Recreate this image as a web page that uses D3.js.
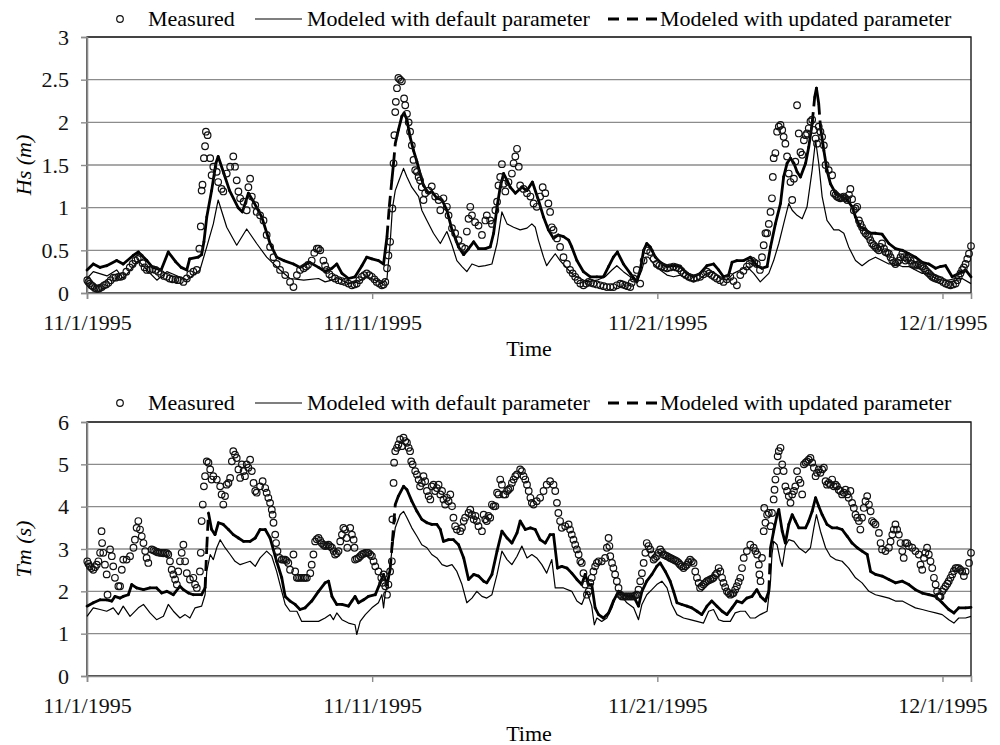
<!DOCTYPE html>
<html>
<head>
<meta charset="utf-8">
<script src="https://cdn.jsdelivr.net/npm/d3@7"></script>
<style>
body{margin:0;background:#fff;}
svg, svg text{font-family:"Liberation Serif","Times New Roman",serif;}
</style>
</head>
<body>
<svg></svg>
<script>
// days counted from 11/1/1995 00:00
var startDate = new Date(1995,10,1);
var dayCount = 31;
var dateTicks = [0,10,20,30];
var legendLabels = ["Measured","Modeled with default parameter","Modeled with updated parameter"];
var hsTicks = [0,0.5,1,1.5,2,2.5,3];
var tmTicks = [0,1,2,3,4,5,6];

var hsMeasured = [[0.01,0.15],[0.1,0.11],[0.2,0.08],[0.34,0.05],[0.45,0.06],[0.6,0.09],[0.75,0.12],[0.92,0.18],[1.1,0.19],[1.25,0.2],[1.5,0.3],[1.7,0.38],[1.86,0.42],[1.95,0.35],[2.1,0.27],[2.3,0.28],[2.5,0.25],[2.7,0.2],[2.9,0.17],[3.1,0.16],[3.26,0.15],[3.38,0.13],[3.5,0.17],[3.62,0.22],[3.73,0.25],[3.85,0.27],[3.94,0.52],[3.99,0.78],[4.02,1.2],[4.05,1.27],[4.1,1.58],[4.14,1.72],[4.17,1.89],[4.23,1.85],[4.32,1.58],[4.37,1.38],[4.43,1.48],[4.55,1.42],[4.6,1.3],[4.72,1.22],[4.78,1.19],[4.9,1.4],[5.02,1.48],[5.13,1.6],[5.19,1.48],[5.25,1.32],[5.31,1.19],[5.37,1.11],[5.49,1.07],[5.6,0.97],[5.66,1.24],[5.72,1.34],[5.78,1.13],[5.9,1.03],[5.95,0.95],[6.07,0.91],[6.19,0.85],[6.3,0.68],[6.42,0.54],[6.54,0.42],[6.65,0.34],[6.77,0.27],[6.95,0.21],[7.12,0.13],[7.24,0.07],[7.36,0.21],[7.47,0.27],[7.6,0.29],[7.75,0.33],[7.88,0.38],[8.06,0.52],[8.18,0.5],[8.29,0.38],[8.41,0.27],[8.59,0.19],[8.82,0.15],[9.05,0.13],[9.29,0.09],[9.46,0.11],[9.64,0.19],[9.81,0.23],[9.99,0.19],[10.16,0.13],[10.34,0.09],[10.46,0.13],[10.52,0.29],[10.57,0.44],[10.63,0.6],[10.71,0.99],[10.75,1.52],[10.78,1.85],[10.81,2.12],[10.83,2.24],[10.87,2.4],[10.92,2.52],[10.98,2.5],[11.04,2.48],[11.12,2.28],[11.16,2.2],[11.22,2.1],[11.28,2.0],[11.33,1.89],[11.39,1.73],[11.45,1.56],[11.51,1.44],[11.57,1.42],[11.63,1.36],[11.68,1.32],[11.74,1.24],[11.8,1.09],[11.86,1.17],[11.98,1.2],[12.09,1.25],[12.21,1.13],[12.33,1.09],[12.39,0.97],[12.5,1.11],[12.62,1.01],[12.68,0.91],[12.8,0.76],[12.91,0.7],[13.03,0.62],[13.15,0.54],[13.26,0.52],[13.32,0.72],[13.38,0.87],[13.44,1.01],[13.5,0.91],[13.61,0.83],[13.73,0.79],[13.85,0.68],[13.97,0.85],[14.02,0.91],[14.14,0.85],[14.2,0.81],[14.32,0.97],[14.38,1.07],[14.43,1.26],[14.49,1.36],[14.55,1.51],[14.61,1.28],[14.67,1.19],[14.78,1.3],[14.9,1.4],[14.96,1.52],[15.02,1.6],[15.08,1.69],[15.14,1.48],[15.19,1.26],[15.31,1.22],[15.43,1.17],[15.55,1.13],[15.66,1.05],[15.77,1.01],[15.89,1.13],[15.98,1.24],[16.07,1.17],[16.18,1.05],[16.24,0.95],[16.3,0.77],[16.36,0.74],[16.48,0.64],[16.59,0.54],[16.71,0.42],[16.83,0.34],[16.94,0.27],[17.12,0.19],[17.3,0.11],[17.41,0.09],[17.59,0.13],[17.76,0.11],[18.0,0.09],[18.23,0.07],[18.46,0.07],[18.7,0.11],[18.87,0.09],[19.05,0.07],[19.17,0.17],[19.28,0.27],[19.4,0.11],[19.52,0.38],[19.63,0.5],[19.75,0.48],[19.87,0.4],[19.98,0.34],[20.16,0.31],[20.34,0.29],[20.57,0.31],[20.75,0.29],[20.92,0.23],[21.1,0.19],[21.27,0.17],[21.5,0.19],[21.74,0.25],[21.91,0.21],[22.09,0.17],[22.32,0.13],[22.56,0.19],[22.79,0.09],[22.91,0.21],[23.14,0.31],[23.32,0.38],[23.49,0.34],[23.6,0.27],[23.67,0.42],[23.73,0.56],[23.79,0.7],[23.85,0.7],[23.91,0.81],[23.97,0.95],[24.02,1.11],[24.05,1.36],[24.08,1.58],[24.14,1.64],[24.2,1.89],[24.26,1.95],[24.32,1.97],[24.38,1.91],[24.43,1.83],[24.49,1.75],[24.55,1.6],[24.61,1.4],[24.67,1.3],[24.73,1.09],[24.79,1.34],[24.84,1.54],[24.9,2.2],[24.96,1.87],[25.02,1.65],[25.08,1.62],[25.14,1.79],[25.2,1.85],[25.25,1.87],[25.31,1.93],[25.37,2.01],[25.43,2.03],[25.49,1.91],[25.55,1.81],[25.6,1.75],[25.66,1.95],[25.72,1.89],[25.78,1.83],[25.84,1.73],[25.9,1.5],[26.01,1.44],[26.13,1.38],[26.19,1.17],[26.3,1.13],[26.42,1.11],[26.54,1.13],[26.66,1.09],[26.77,1.22],[26.89,0.97],[27.01,1.01],[27.07,0.85],[27.18,0.77],[27.3,0.7],[27.42,0.66],[27.53,0.58],[27.65,0.54],[27.77,0.5],[27.88,0.58],[28.0,0.48],[28.12,0.46],[28.24,0.38],[28.35,0.34],[28.47,0.38],[28.59,0.46],[28.7,0.38],[28.82,0.42],[28.94,0.34],[29.05,0.32],[29.17,0.34],[29.29,0.31],[29.4,0.27],[29.52,0.23],[29.64,0.19],[29.76,0.17],[29.93,0.15],[30.11,0.11],[30.28,0.09],[30.46,0.11],[30.57,0.19],[30.69,0.27],[30.81,0.34],[30.93,0.46],[31.0,0.55],
  [0.05,0.13],[0.15,0.09],[0.27,0.06],[0.4,0.05],[0.52,0.07],[0.67,0.1],[0.83,0.15],[1.0,0.18],[1.18,0.19],[1.38,0.25],[1.6,0.34],[1.78,0.4],[2.02,0.3],[2.2,0.27],[2.4,0.27],[2.6,0.22],[2.8,0.19],[3.0,0.16],[3.18,0.15],
  [7.68,0.31],[7.97,0.47],[8.12,0.52],[8.35,0.32],[8.5,0.22],[8.7,0.17],[8.93,0.14],[9.17,0.11],[9.38,0.1],[9.55,0.15],[9.72,0.21],[9.9,0.21],[10.08,0.16],[10.25,0.11],[10.4,0.1],
  [17.03,0.23],[17.21,0.15],[17.5,0.11],[17.67,0.12],[17.88,0.1],[18.12,0.08],[18.35,0.07],[18.58,0.09],[18.78,0.1],[18.96,0.08],[19.1,0.12],
  [20.07,0.32],[20.25,0.3],[20.45,0.3],[20.66,0.3],[20.84,0.26],[21.0,0.21],[21.18,0.18],[21.38,0.18],[21.62,0.22],[21.82,0.23],[22.0,0.19],[22.2,0.15],[22.44,0.16],[22.67,0.14],[23.02,0.26],[23.23,0.34],[23.4,0.36],
  [26.25,1.15],[26.36,1.12],[26.48,1.12],[26.6,1.11],[26.72,1.15],[26.83,1.1],[26.95,0.99],[27.12,0.81],[27.24,0.73],[27.36,0.68],[27.47,0.62],[27.59,0.56],[27.71,0.52],[27.82,0.54],
  [27.95,0.52],[28.06,0.47],[28.18,0.42],[28.3,0.36],[28.41,0.36],[28.53,0.42],[28.65,0.42],[28.76,0.4],[28.88,0.38],[29.0,0.33],[29.11,0.33],[29.23,0.32],[29.35,0.29],[29.46,0.25],[29.58,0.21],[29.7,0.18],[29.84,0.16],[30.02,0.13],[30.2,0.1],[30.37,0.1],[30.52,0.15],[30.63,0.23],[30.75,0.3],[30.87,0.4]];

var hsDefault = [[0,0.17],[0.22,0.25],[0.7,0.2],[1.04,0.27],[1.27,0.17],[1.8,0.38],[2.1,0.27],[2.45,0.15],[2.8,0.25],[3.03,0.22],[3.5,0.15],[3.96,0.27],[4.2,0.54],[4.43,0.81],[4.6,1.09],[4.9,0.77],[5.25,0.56],[5.6,0.75],[5.95,0.58],[6.3,0.42],[6.77,0.27],[7.12,0.17],[7.6,0.15],[8.12,0.17],[8.35,0.13],[8.59,0.15],[8.82,0.17],[9.17,0.11],[9.52,0.13],[9.76,0.19],[9.99,0.17],[10.34,0.11],[10.52,0.17],[10.63,0.58],[10.71,0.99],[10.81,1.2],[10.92,1.3],[11.1,1.46],[11.22,1.36],[11.39,1.24],[11.63,1.13],[11.74,0.97],[11.92,0.85],[12.15,0.7],[12.39,0.58],[12.62,0.72],[12.8,0.56],[12.97,0.38],[13.15,0.31],[13.32,0.25],[13.5,0.34],[13.73,0.31],[13.97,0.32],[14.2,0.34],[14.38,0.58],[14.55,0.95],[14.73,0.81],[14.96,0.77],[15.19,0.74],[15.43,0.76],[15.6,0.81],[15.72,0.77],[15.83,0.62],[16.01,0.42],[16.12,0.32],[16.24,0.38],[16.42,0.46],[16.59,0.38],[16.83,0.29],[17.06,0.21],[17.3,0.17],[17.53,0.13],[17.88,0.15],[18.17,0.19],[18.41,0.27],[18.58,0.32],[18.81,0.25],[19.05,0.19],[19.28,0.13],[19.46,0.27],[19.58,0.42],[19.69,0.42],[19.87,0.34],[20.1,0.27],[20.34,0.21],[20.57,0.19],[20.8,0.21],[21.04,0.17],[21.27,0.13],[21.5,0.17],[21.74,0.23],[21.97,0.25],[22.21,0.17],[22.44,0.15],[22.67,0.23],[22.91,0.27],[23.14,0.31],[23.38,0.23],[23.61,0.13],[23.91,0.23],[24.08,0.38],[24.26,0.58],[24.43,0.81],[24.61,1.05],[24.73,0.97],[24.9,0.91],[25.08,0.87],[25.25,1.01],[25.43,1.44],[25.55,1.79],[25.66,1.52],[25.78,1.13],[25.95,0.85],[26.19,0.74],[26.36,0.74],[26.54,0.7],[26.71,0.54],[26.95,0.38],[27.18,0.32],[27.42,0.38],[27.65,0.42],[27.88,0.38],[28.12,0.34],[28.35,0.34],[28.59,0.31],[28.82,0.31],[29.05,0.27],[29.29,0.23],[29.52,0.23],[29.76,0.17],[29.99,0.15],[30.22,0.15],[30.46,0.17],[30.69,0.17],[31,0.11]];

var hsUpdated = [[0,0.27],[0.22,0.34],[0.46,0.3],[0.69,0.32],[1.04,0.38],[1.27,0.34],[1.62,0.44],[1.8,0.48],[2.1,0.38],[2.3,0.3],[2.6,0.27],[2.85,0.48],[3.1,0.37],[3.3,0.3],[3.5,0.27],[3.6,0.4],[3.9,0.42],[4.02,0.45],[4.1,0.6],[4.2,0.89],[4.37,1.2],[4.52,1.52],[4.6,1.6],[4.8,1.4],[5.0,1.2],[5.3,1.0],[5.45,0.95],[5.66,1.17],[5.84,1.07],[6.13,0.89],[6.42,0.58],[6.65,0.42],[6.9,0.38],[7.24,0.34],[7.47,0.3],[7.8,0.36],[8.12,0.3],[8.35,0.25],[8.59,0.29],[8.76,0.34],[8.94,0.23],[9.17,0.17],[9.4,0.19],[9.64,0.32],[9.81,0.42],[9.99,0.4],[10.22,0.38],[10.4,0.34],[10.52,0.66],[10.6,1.01],[10.69,1.32],[10.75,1.52],[10.81,1.75],[10.92,1.91],[11.04,2.07],[11.12,2.11],[11.22,2.03],[11.33,1.83],[11.45,1.67],[11.57,1.54],[11.68,1.4],[11.8,1.26],[11.98,1.17],[12.09,1.19],[12.27,1.11],[12.45,1.09],[12.62,0.97],[12.8,0.74],[13.03,0.54],[13.21,0.45],[13.38,0.52],[13.56,0.6],[13.73,0.52],[13.97,0.52],[14.14,0.54],[14.26,0.7],[14.38,1.01],[14.49,1.24],[14.61,1.4],[14.73,1.32],[14.84,1.24],[15.02,1.17],[15.25,1.24],[15.43,1.2],[15.62,1.3],[15.83,1.09],[16.01,0.89],[16.18,0.74],[16.36,0.64],[16.53,0.68],[16.71,0.66],[16.89,0.62],[17.0,0.54],[17.18,0.38],[17.41,0.25],[17.65,0.19],[17.88,0.19],[18.11,0.19],[18.29,0.31],[18.46,0.42],[18.6,0.48],[18.81,0.34],[19.05,0.23],[19.28,0.13],[19.4,0.27],[19.52,0.5],[19.63,0.58],[19.75,0.54],[19.93,0.42],[20.1,0.36],[20.34,0.31],[20.57,0.32],[20.8,0.31],[21.04,0.23],[21.27,0.19],[21.5,0.23],[21.74,0.32],[21.97,0.34],[22.15,0.27],[22.32,0.19],[22.5,0.21],[22.62,0.36],[22.79,0.38],[23.03,0.38],[23.26,0.42],[23.49,0.32],[23.67,0.29],[23.85,0.31],[23.97,0.54],[24.14,0.81],[24.32,1.05],[24.43,1.36],[24.55,1.52],[24.67,1.58],[24.79,1.52],[24.9,1.42],[25.02,1.36],[25.2,1.52],[25.31,1.71],[25.43,1.99],[25.52,2.3],[25.58,2.4],[25.66,2.22],[25.72,1.95],[25.84,1.67],[25.95,1.44],[26.07,1.28],[26.25,1.17],[26.48,1.13],[26.66,1.09],[26.83,1.01],[26.95,0.89],[27.12,0.77],[27.3,0.74],[27.48,0.7],[27.65,0.7],[27.88,0.69],[28.12,0.58],[28.35,0.52],[28.59,0.5],[28.82,0.46],[29.05,0.42],[29.29,0.36],[29.52,0.34],[29.76,0.29],[29.93,0.31],[30.11,0.32],[30.34,0.19],[30.57,0.23],[30.81,0.27],[31,0.19]];

var tmMeasured = [[0.01,2.71],[0.1,2.59],[0.22,2.51],[0.34,2.63],[0.4,2.71],[0.46,2.91],[0.51,3.42],[0.53,3.14],[0.57,2.91],[0.63,2.63],[0.69,2.4],[0.72,1.92],[0.81,2.99],[0.87,2.83],[0.92,2.59],[0.98,2.32],[1.1,2.12],[1.16,2.12],[1.22,2.51],[1.27,2.75],[1.39,2.75],[1.51,2.83],[1.63,3.03],[1.68,3.22],[1.74,3.5],[1.8,3.66],[1.86,3.46],[1.92,3.3],[1.98,3.14],[2.04,2.95],[2.09,2.79],[2.15,2.67],[2.27,2.99],[2.39,2.95],[2.56,2.91],[2.74,2.91],[2.85,2.87],[2.91,2.71],[2.97,2.51],[3.03,2.4],[3.09,2.28],[3.15,2.16],[3.2,2.47],[3.26,2.71],[3.32,2.91],[3.38,3.1],[3.44,2.71],[3.5,2.43],[3.61,2.28],[3.73,2.32],[3.79,2.16],[3.85,2.08],[3.96,2.47],[3.99,2.91],[4.02,3.66],[4.06,4.05],[4.1,4.48],[4.14,4.72],[4.2,5.07],[4.26,5.04],[4.32,4.88],[4.37,4.64],[4.43,4.72],[4.55,4.64],[4.67,4.48],[4.72,4.29],[4.78,4.05],[4.84,4.25],[4.9,4.52],[4.96,4.56],[5.02,4.68],[5.08,5.07],[5.13,5.31],[5.19,5.23],[5.25,5.15],[5.31,4.88],[5.37,4.68],[5.43,5.0],[5.49,4.84],[5.54,4.72],[5.6,5.0],[5.66,4.92],[5.72,5.11],[5.78,4.84],[5.84,4.56],[5.9,4.37],[5.95,4.33],[6.07,4.48],[6.16,4.6],[6.25,4.44],[6.3,4.33],[6.36,4.21],[6.42,4.09],[6.48,3.93],[6.51,3.81],[6.54,3.62],[6.6,3.34],[6.63,3.14],[6.68,2.95],[6.75,2.79],[6.83,2.75],[6.95,2.75],[7.06,2.67],[7.12,2.51],[7.24,2.87],[7.3,2.47],[7.36,2.32],[7.47,2.32],[7.6,2.32],[7.71,2.32],[7.83,2.43],[7.88,2.63],[7.94,2.87],[8.0,3.18],[8.12,3.26],[8.23,3.14],[8.35,3.07],[8.47,3.1],[8.59,3.03],[8.7,2.87],[8.82,2.95],[8.88,3.18],[8.94,3.34],[8.99,3.5],[9.05,3.46],[9.11,3.26],[9.13,3.03],[9.23,3.5],[9.29,3.34],[9.35,3.22],[9.38,3.03],[9.4,2.75],[9.52,2.79],[9.64,2.87],[9.76,2.91],[9.87,2.91],[9.99,2.83],[10.05,2.71],[10.11,2.59],[10.22,2.47],[10.32,2.32],[10.36,2.2],[10.4,2.4],[10.46,2.12],[10.52,1.92],[10.57,2.16],[10.63,2.47],[10.69,2.71],[10.71,3.7],[10.75,4.56],[10.77,5.04],[10.81,5.31],[10.87,5.39],[10.92,5.47],[10.98,5.59],[11.04,5.43],[11.1,5.63],[11.16,5.55],[11.22,5.51],[11.28,5.39],[11.33,5.31],[11.37,5.07],[11.42,5.0],[11.51,4.84],[11.57,4.76],[11.63,4.64],[11.68,4.48],[11.74,4.56],[11.8,4.72],[11.86,4.6],[11.92,4.37],[11.98,4.25],[12.04,4.17],[12.09,4.48],[12.15,4.52],[12.21,4.37],[12.27,4.44],[12.33,4.52],[12.39,4.29],[12.45,4.37],[12.5,4.17],[12.56,4.05],[12.62,4.21],[12.68,4.13],[12.74,4.29],[12.8,4.01],[12.85,3.74],[12.91,3.54],[12.97,3.46],[13.09,3.42],[13.15,3.5],[13.21,3.66],[13.26,3.74],[13.38,3.85],[13.44,3.93],[13.5,3.81],[13.56,3.7],[13.62,3.78],[13.67,3.66],[13.73,3.54],[13.85,3.42],[13.91,3.81],[13.97,3.7],[14.02,3.66],[14.08,3.78],[14.14,3.74],[14.2,4.05],[14.26,4.01],[14.32,4.01],[14.38,4.33],[14.43,4.29],[14.49,4.64],[14.55,4.52],[14.61,4.29],[14.67,4.29],[14.73,4.37],[14.78,4.4],[14.84,4.44],[14.9,4.56],[14.96,4.64],[15.02,4.72],[15.08,4.76],[15.19,4.88],[15.25,4.84],[15.31,4.72],[15.37,4.64],[15.43,4.52],[15.49,4.37],[15.55,4.21],[15.6,4.09],[15.66,4.05],[15.77,4.13],[15.89,4.21],[16.01,4.37],[16.12,4.52],[16.24,4.6],[16.36,4.52],[16.42,4.37],[16.48,4.09],[16.53,3.85],[16.59,3.66],[16.65,3.5],[16.77,3.54],[16.89,3.58],[16.94,3.46],[17.0,3.34],[17.06,3.22],[17.12,3.1],[17.18,2.99],[17.24,2.87],[17.3,2.71],[17.35,2.67],[17.41,2.43],[17.47,2.16],[17.53,1.92],[17.59,2.0],[17.65,2.2],[17.7,2.32],[17.76,2.47],[17.82,2.59],[17.88,2.67],[17.94,2.71],[18.05,2.71],[18.17,2.79],[18.23,3.03],[18.29,3.26],[18.32,3.07],[18.35,2.83],[18.41,2.67],[18.46,2.55],[18.52,2.4],[18.58,2.24],[18.64,2.08],[18.7,1.92],[18.81,1.88],[18.93,1.88],[19.05,1.88],[19.17,1.88],[19.28,1.92],[19.34,2.04],[19.4,2.24],[19.46,2.43],[19.52,2.67],[19.58,2.91],[19.63,3.14],[19.69,3.07],[19.75,2.99],[19.81,2.87],[19.87,2.75],[19.98,2.83],[20.1,2.99],[20.22,2.87],[20.34,2.83],[20.45,2.79],[20.57,2.75],[20.69,2.71],[20.8,2.63],[20.92,2.55],[21.04,2.63],[21.15,2.75],[21.27,2.67],[21.33,2.47],[21.39,2.32],[21.45,2.2],[21.5,2.08],[21.62,2.16],[21.74,2.24],[21.86,2.28],[21.97,2.32],[22.09,2.43],[22.15,2.55],[22.21,2.47],[22.27,2.32],[22.32,2.2],[22.44,2.0],[22.56,1.92],[22.67,1.96],[22.79,2.12],[22.91,2.32],[22.97,2.55],[23.03,2.79],[23.14,2.95],[23.26,3.1],[23.38,3.03],[23.44,2.95],[23.5,2.87],[23.56,2.63],[23.58,2.4],[23.62,2.24],[23.67,2.79],[23.73,3.42],[23.75,3.97],[23.79,3.62],[23.85,3.81],[23.91,3.85],[23.97,3.54],[24.02,3.85],[24.08,4.17],[24.11,4.4],[24.14,4.64],[24.2,4.84],[24.22,5.19],[24.26,5.31],[24.32,5.39],[24.38,5.0],[24.43,4.84],[24.49,4.48],[24.55,4.37],[24.61,4.25],[24.67,4.09],[24.73,4.29],[24.79,4.37],[24.84,4.48],[24.9,4.84],[24.96,4.64],[25.02,4.56],[25.08,4.29],[25.14,5.0],[25.2,5.04],[25.25,5.07],[25.31,5.11],[25.37,5.15],[25.43,5.04],[25.49,4.92],[25.55,4.72],[25.6,4.8],[25.66,4.88],[25.72,4.8],[25.78,4.88],[25.84,4.92],[25.9,4.6],[25.95,4.52],[26.01,4.56],[26.07,4.52],[26.13,4.64],[26.19,4.48],[26.25,4.52],[26.3,4.48],[26.36,4.4],[26.42,4.37],[26.48,4.29],[26.54,4.33],[26.6,4.4],[26.66,4.29],[26.71,4.21],[26.77,4.37],[26.83,4.09],[26.89,3.97],[26.95,3.81],[27.01,3.74],[27.07,3.66],[27.12,3.46],[27.18,3.74],[27.24,3.97],[27.3,4.13],[27.36,4.25],[27.42,4.05],[27.48,3.89],[27.53,3.66],[27.59,3.62],[27.65,3.58],[27.77,3.38],[27.83,3.14],[27.88,2.99],[28.0,2.95],[28.12,3.03],[28.18,3.18],[28.24,3.34],[28.29,3.46],[28.35,3.58],[28.41,3.46],[28.47,3.34],[28.53,3.14],[28.59,2.95],[28.64,2.79],[28.7,3.14],[28.76,3.14],[28.82,3.07],[28.94,3.03],[29.05,2.95],[29.17,2.87],[29.23,2.63],[29.29,2.51],[29.35,2.79],[29.4,2.91],[29.46,3.03],[29.52,2.87],[29.58,2.71],[29.64,2.55],[29.7,2.32],[29.76,2.16],[29.81,2.0],[29.87,1.88],[29.93,1.88],[29.99,2.0],[30.11,2.12],[30.22,2.24],[30.34,2.4],[30.46,2.55],[30.57,2.55],[30.69,2.47],[30.75,2.36],[30.81,2.47],[30.93,2.67],[31.0,2.91],
  [0.05,2.65],[0.16,2.55],[0.28,2.57],[2.33,2.97],[2.45,2.93],[2.5,2.92],[2.62,2.91],[2.68,2.9],[2.8,2.9],[6.89,2.75],[7.0,2.72],[7.41,2.32],[7.53,2.32],[7.65,2.32],
  [8.06,3.23],[8.18,3.2],[8.29,3.1],[8.41,3.08],[8.53,3.06],[8.65,2.95],[8.76,2.9],[9.46,2.77],[9.58,2.83],[9.7,2.89],[9.82,2.91],[9.93,2.87],
  [18.76,1.88],[18.87,1.88],[18.99,1.88],[19.11,1.88],[19.22,1.9],[19.92,2.79],[20.04,2.91],[20.16,2.93],[20.28,2.85],[20.4,2.81],[20.51,2.77],[20.63,2.73],[20.75,2.67],[20.86,2.59],[20.98,2.59],[21.09,2.69],[21.21,2.71],
  [21.56,2.12],[21.68,2.2],[21.8,2.26],[21.92,2.3],[22.03,2.38],[22.38,2.1],[22.5,1.96],[22.62,1.94],[22.73,2.04],[22.85,2.22],
  [29.9,1.88],[30.05,2.06],[30.17,2.18],[30.28,2.32],[30.4,2.48],[30.51,2.55],[30.63,2.51]];

var tmDefault = [[0,1.41],[0.22,1.61],[0.46,1.57],[0.69,1.53],[0.92,1.61],[1.1,1.45],[1.27,1.65],[1.51,1.41],[1.8,1.61],[1.98,1.69],[2.21,1.49],[2.44,1.33],[2.68,1.41],[2.85,1.69],[3.03,1.53],[3.26,1.37],[3.44,1.45],[3.61,1.37],[3.79,1.61],[4.02,1.65],[4.14,1.92],[4.2,2.47],[4.32,2.87],[4.43,2.75],[4.55,3.03],[4.67,3.22],[4.84,3.03],[5.02,2.87],[5.19,2.71],[5.37,2.63],[5.54,2.67],[5.72,2.71],[5.9,2.59],[6.07,2.79],[6.3,2.95],[6.48,2.83],[6.65,2.47],[6.83,2.0],[6.95,1.69],[7.12,1.53],[7.36,1.53],[7.53,1.29],[7.82,1.29],[8.12,1.29],[8.35,1.37],[8.53,1.45],[8.64,1.33],[8.76,1.49],[8.94,1.33],[9.17,1.25],[9.4,1.21],[9.46,0.98],[9.58,1.29],[9.76,1.45],[9.99,1.61],[10.22,1.73],[10.34,1.92],[10.4,1.61],[10.46,1.96],[10.57,2.24],[10.69,2.95],[10.81,3.5],[10.98,3.81],[11.1,3.89],[11.22,3.74],[11.39,3.5],[11.57,3.3],[11.74,3.1],[11.92,3.03],[12.09,2.87],[12.27,2.79],[12.45,2.63],[12.62,2.59],[12.8,2.63],[12.97,2.47],[13.15,2.16],[13.32,1.73],[13.5,1.84],[13.67,2.0],[13.85,1.88],[14.02,1.84],[14.2,1.92],[14.38,2.4],[14.55,2.95],[14.73,2.75],[14.9,2.63],[15.08,2.83],[15.25,3.07],[15.43,2.79],[15.6,2.87],[15.77,2.79],[15.95,2.63],[16.12,2.43],[16.3,2.75],[16.42,2.08],[16.71,2.08],[17.0,2.0],[17.18,1.77],[17.35,1.69],[17.53,2.0],[17.7,1.65],[17.79,1.21],[17.88,1.37],[18.05,1.29],[18.23,1.37],[18.41,1.61],[18.58,1.96],[18.76,1.88],[18.93,1.73],[19.17,1.61],[19.34,1.33],[19.46,1.69],[19.63,1.92],[19.81,2.04],[19.98,2.16],[20.16,2.24],[20.34,2.08],[20.51,1.69],[20.69,1.45],[20.92,1.37],[21.15,1.33],[21.39,1.29],[21.62,1.25],[21.8,1.53],[21.97,1.57],[22.15,1.33],[22.32,1.29],[22.56,1.29],[22.73,1.49],[22.91,1.53],[23.08,1.53],[23.26,1.37],[23.43,1.37],[23.61,1.45],[23.85,1.53],[23.97,2.24],[24.02,2.87],[24.08,3.18],[24.2,3.1],[24.32,2.71],[24.38,2.59],[24.49,3.07],[24.61,3.22],[24.79,3.18],[24.96,3.03],[25.2,2.91],[25.37,3.03],[25.49,3.5],[25.58,3.81],[25.72,3.42],[25.9,3.03],[26.07,2.83],[26.25,2.75],[26.48,2.71],[26.71,2.55],[26.95,2.32],[27.18,2.2],[27.42,2.0],[27.65,1.92],[27.88,1.88],[28.12,1.84],[28.35,1.77],[28.59,1.77],[28.82,1.69],[29.05,1.61],[29.29,1.57],[29.52,1.53],[29.76,1.49],[29.99,1.45],[30.22,1.33],[30.4,1.25],[30.57,1.37],[30.81,1.37],[31,1.41]];

var tmUpdated = [[0,1.65],[0.22,1.73],[0.46,1.8],[0.69,1.8],[0.87,1.77],[0.98,1.88],[1.16,1.84],[1.27,1.88],[1.45,1.92],[1.57,2.16],[1.74,2.08],[1.98,2.04],[2.21,2.08],[2.44,2.08],[2.62,1.96],[2.8,2.0],[3.03,1.92],[3.26,2.12],[3.38,2.04],[3.56,1.96],[3.73,1.92],[4.02,1.92],[4.14,2.08],[4.2,3.03],[4.26,3.85],[4.37,3.46],[4.49,3.34],[4.61,3.62],[4.78,3.58],[4.96,3.46],[5.13,3.34],[5.31,3.26],[5.49,3.18],[5.72,3.18],[5.9,3.26],[6.07,3.46],[6.25,3.46],[6.42,3.26],[6.65,2.71],[6.83,2.32],[6.95,1.88],[7.12,1.77],[7.3,1.69],[7.47,1.57],[7.65,1.61],[7.88,1.77],[8.12,2.0],[8.35,2.2],[8.47,2.24],[8.59,1.88],[8.76,1.69],[8.94,1.69],[9.17,1.65],[9.29,1.77],[9.4,1.88],[9.52,1.73],[9.7,1.8],[9.87,1.88],[10.11,1.92],[10.28,2.2],[10.4,2.4],[10.52,2.16],[10.63,2.51],[10.71,3.18],[10.81,4.05],[10.92,4.25],[11.1,4.48],[11.22,4.4],[11.39,4.13],[11.57,3.89],[11.74,3.7],[11.92,3.62],[12.09,3.58],[12.27,3.58],[12.39,3.46],[12.5,3.18],[12.68,3.22],[12.85,3.22],[13.03,3.1],[13.21,2.79],[13.38,2.28],[13.56,2.4],[13.73,2.36],[13.91,2.24],[14.02,2.2],[14.2,2.4],[14.38,2.95],[14.55,3.42],[14.73,3.26],[14.9,3.14],[15.08,3.38],[15.19,3.66],[15.37,3.46],[15.55,3.5],[15.72,3.46],[15.89,3.22],[16.07,3.14],[16.24,3.34],[16.36,3.34],[16.5,2.55],[16.65,2.59],[16.83,2.55],[17.0,2.43],[17.18,2.28],[17.35,2.16],[17.47,2.4],[17.59,2.16],[17.7,2.16],[17.82,1.61],[17.94,1.45],[18.11,1.37],[18.29,1.49],[18.46,1.77],[18.64,2.0],[18.81,1.92],[18.99,1.88],[19.17,1.88],[19.34,1.65],[19.46,2.0],[19.63,2.24],[19.81,2.4],[19.98,2.59],[20.1,2.67],[20.28,2.47],[20.45,2.24],[20.57,2.0],[20.69,1.73],[20.86,1.69],[21.04,1.65],[21.21,1.61],[21.39,1.53],[21.56,1.45],[21.74,1.65],[21.91,1.77],[22.09,1.65],[22.27,1.53],[22.44,1.45],[22.62,1.61],[22.79,1.77],[22.97,1.73],[23.14,1.84],[23.32,1.88],[23.49,2.04],[23.62,1.88],[23.79,1.77],[23.91,2.0],[23.97,3.03],[24.08,3.42],[24.2,3.81],[24.26,3.93],[24.38,3.42],[24.49,3.14],[24.61,3.58],[24.73,3.81],[24.84,3.66],[24.96,3.5],[25.2,3.5],[25.31,3.66],[25.43,3.89],[25.55,4.21],[25.66,4.01],[25.78,3.81],[25.95,3.58],[26.13,3.5],[26.3,3.5],[26.48,3.46],[26.66,3.3],[26.83,3.14],[27.01,3.03],[27.18,2.95],[27.36,2.87],[27.48,2.47],[27.65,2.4],[27.88,2.36],[28.12,2.28],[28.35,2.2],[28.59,2.24],[28.82,2.16],[29.05,2.04],[29.29,1.96],[29.52,1.92],[29.76,1.88],[29.99,1.73],[30.22,1.57],[30.4,1.49],[30.57,1.61],[30.81,1.61],[31,1.62]];

var serif = '"Liberation Serif","Times New Roman",serif';

var toDate = function(d)
{
  return d3.timeMinute.offset(startDate, Math.round(d*1440));
}

var screen =
{
  width: 1000,
  height: 745
}

var margins =
{
  left: 87,
  right: 29
}

var svg = d3.select('svg')
          .attr('width',screen.width)
          .attr('height',screen.height)
          .attr('font-family',serif);

var xScale = d3.scaleTime()
               .domain([startDate, toDate(dayCount)])
               .range([margins.left, screen.width-margins.right]);

var drawPanel = function(p)
{
  var yScale = d3.scaleLinear()
                 .domain([0, p.ticks[p.ticks.length-1]])
                 .range([p.bottom, p.top]);
  var g = svg.append('g').classed('panel',true);

  // gridlines
  g.append('g').selectAll('line')
    .data(p.ticks)
    .enter().append('line')
    .attr('x1',xScale.range()[0]).attr('x2',xScale.range()[1])
    .attr('y1',function(d){return yScale(d)})
    .attr('y2',function(d){return yScale(d)})
    .attr('stroke','#8c8c8c')
    .attr('stroke-width',1.4);

  // plot frame (top & right dark)
  g.append('rect')
    .attr('x',xScale.range()[0]).attr('y',p.top)
    .attr('width',xScale.range()[1]-xScale.range()[0])
    .attr('height',p.bottom-p.top)
    .attr('fill','none')
    .attr('stroke','#1a1a1a')
    .attr('stroke-width',1.4);

  var yAxis = d3.axisLeft(yScale)
                .tickValues(p.ticks)
                .tickSize(6)
                .tickPadding(12)
                .tickFormat(d3.format('~g'));
  var ya = g.append('g').classed('yAxis',true)
            .attr('transform','translate('+xScale.range()[0]+',0)')
            .call(yAxis);

  var xAxis = d3.axisBottom(xScale)
                .tickValues(dateTicks.map(toDate))
                .tickSize(6)
                .tickFormat(d3.timeFormat('%-m/%-d/%Y'));
  var xa = g.append('g').classed('xAxis',true)
            .attr('transform','translate(0,'+p.bottom+')')
            .call(xAxis);
  xa.selectAll('text').attr('y',37).attr('dy',null);

  [ya, xa].forEach(function(a){
    a.attr('font-family',serif).attr('font-size',22);
    a.select('.domain').attr('stroke','#8c8c8c').attr('stroke-width',1.6);
    a.selectAll('.tick line').attr('stroke','#8c8c8c').attr('stroke-width',1.4);
    a.selectAll('text').attr('fill','#111');
  });

  // default parameter line
  var drawLine = d3.line()
                   .x(function(d){return xScale(toDate(d[0]))})
                   .y(function(d){return yScale(d[1])});
  g.append('path')
    .datum(p.def)
    .attr('d',drawLine)
    .attr('fill','none')
    .attr('stroke','#000')
    .attr('stroke-width',1.2)
    .attr('stroke-linejoin','round');

  // updated parameter line: dashes only show where the hourly step is long
  var segs = d3.pairs(p.upd).map(function(s){
    var x1 = xScale(toDate(s[0][0])), y1 = yScale(s[0][1]);
    var x2 = xScale(toDate(s[1][0])), y2 = yScale(s[1][1]);
    var hours = Math.max(1, (s[1][0]-s[0][0])*24);
    return {x1:x1, y1:y1, x2:x2, y2:y2, dashed: Math.hypot(x2-x1,y2-y1)/hours > 12};
  });
  g.append('g').selectAll('line')
    .data(segs)
    .enter().append('line')
    .attr('x1',function(d){return d.x1})
    .attr('y1',function(d){return d.y1})
    .attr('x2',function(d){return d.x2})
    .attr('y2',function(d){return d.y2})
    .attr('stroke','#000')
    .attr('stroke-width',2.8)
    .attr('stroke-linecap',function(d){return d.dashed ? 'butt' : 'round'})
    .attr('stroke-dasharray',function(d){return d.dashed ? '11,6' : null});

  // measured
  g.append('g').selectAll('circle')
    .data(p.meas)
    .enter().append('circle')
    .attr('cx',function(d){return xScale(toDate(d[0]))})
    .attr('cy',function(d){return yScale(d[1])})
    .attr('r',3.3)
    .attr('fill','none')
    .attr('stroke','#111')
    .attr('stroke-width',1.2);

  // titles
  g.append('text')
    .attr('x',(xScale.range()[0]+xScale.range()[1])/2)
    .attr('y',p.timeY)
    .attr('text-anchor','middle')
    .attr('font-size',22)
    .text('Time');
  g.append('text')
    .attr('transform','translate(31,'+((p.top+p.bottom)/2)+') rotate(-90)')
    .attr('text-anchor','middle')
    .attr('font-size',22)
    .attr('font-style','italic')
    .text(p.title);

  // legend
  var ly = p.legendY;
  var lg = g.append('g').classed('legend',true);
  lg.append('circle').attr('cx',120).attr('cy',ly).attr('r',3.3)
    .attr('fill','none').attr('stroke','#111').attr('stroke-width',1.2);
  lg.append('line').attr('x1',255).attr('x2',302).attr('y1',ly).attr('y2',ly)
    .attr('stroke','#000').attr('stroke-width',1.2);
  lg.append('line').attr('x1',608).attr('x2',657).attr('y1',ly).attr('y2',ly)
    .attr('stroke','#000').attr('stroke-width',2.8).attr('stroke-dasharray','11,8');
  lg.selectAll('text')
    .data(legendLabels)
    .enter().append('text')
    .attr('x',function(d,i){return [148,307,660][i]})
    .attr('y',ly+7)
    .attr('font-size',22)
    .text(function(d){return d});
}

drawPanel({top:37, bottom:293, ticks:hsTicks, title:'Hs (m)', legendY:19, timeY:356,
           meas:hsMeasured, def:hsDefault, upd:hsUpdated});
drawPanel({top:422, bottom:676, ticks:tmTicks, title:'Tm (s)', legendY:403, timeY:741,
           meas:tmMeasured, def:tmDefault, upd:tmUpdated});
</script>
</body>
</html>
